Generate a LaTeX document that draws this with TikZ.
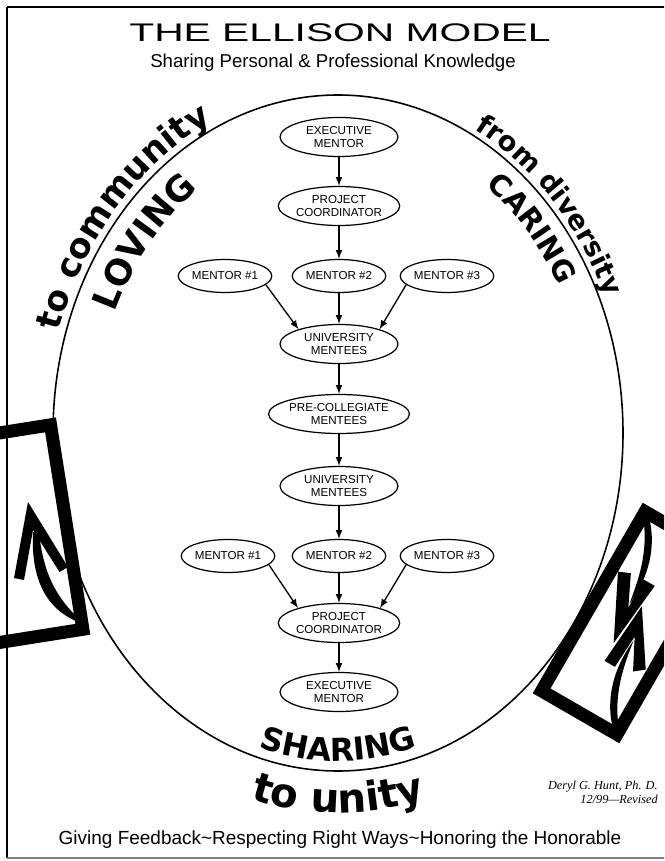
\documentclass[tikz,border=0pt]{standalone}
\usepackage{fontspec}
\setmainfont{Liberation Sans}
\newfontfamily\serifit{Liberation Serif}
\newfontfamily\curvefont{DejaVu Sans}
\usetikzlibrary{shapes.geometric,decorations.text}

\newcommand\curveA{\curvefont\bfseries\fontsize{15.5}{15.5}\selectfont}
\newcommand\curveB{\curvefont\bfseries\fontsize{16.5}{16.5}\selectfont}
\newcommand\curveC{\curvefont\bfseries\fontsize{18}{18}\selectfont}
\newcommand\curveD{\curvefont\bfseries\fontsize{20}{20}\selectfont}
\newcommand\curveE{\curvefont\bfseries\fontsize{23}{23}\selectfont}
\newcommand\curveF{\curvefont\bfseries\fontsize{19.5}{19.5}\selectfont}

\begin{document}
\begin{tikzpicture}[x=0.02cm, y=0.02cm,
    bignode/.style={draw, ellipse, line width=0.7pt, inner sep=0pt,
      minimum width=2.36cm, minimum height=0.78cm, align=center,
      font=\fontsize{6.6}{7.6}\selectfont},
    mentor/.style={bignode, minimum width=1.86cm, minimum height=0.66cm},
    link/.style={-latex, line width=0.75pt},
    sidebox/.style={draw, rectangle, line width=7.4pt, inner sep=0pt}]
  \useasboundingbox (0,0) rectangle (664,-861);
  \clip (0,0) rectangle (664,-861);

    \node (title) at (340,-33) [xscale=1.6] {\fontsize{14.5}{15}\selectfont THE ELLISON MODEL};
    \node (subtitle) at (333,-63) {\fontsize{10.6}{12}\selectfont Sharing Personal \& Professional Knowledge};
    \node (footer) at (340,-840) {\fontsize{10.8}{12}\selectfont Giving Feedback\textasciitilde Respecting Right Ways\textasciitilde Honoring the Honorable};
    \node (author) [anchor=north east, align=right, inner sep=0pt,
      font=\serifit\itshape\fontsize{7}{8}\selectfont] at (658,-781)
      {Deryl G. Hunt, Ph. D.\\ 12/99—Revised};

    \coordinate (C) at (338,-433);
    \draw [line width=0.9pt] (C) ellipse [x radius=285, y radius=338];

    %\path [decorate] ... words round the ring
    \path [decorate, decoration={text along path, text align=center, text={|\curveF|to community}}]
      ([shift={(178:292 and 345)}]C) arc [start angle=178, end angle=98, x radius=292, y radius=345];
    \path [decorate, decoration={text along path, text align=center, text={|\curveD|LOVING}}]
      ([shift={(174:244 and 297)}]C) arc [start angle=174, end angle=104, x radius=244, y radius=297];
    \path [decorate, decoration={text along path, text align=center, text={|\curveA|from diversity}}]
      ([shift={(83:291 and 344)}]C) arc [start angle=83, end angle=5, x radius=291, y radius=344];
    \path [decorate, decoration={text along path, text align=center, text={|\curveB|CARING}}]
      ([shift={(78:252 and 305)}]C) arc [start angle=78, end angle=8, x radius=252, y radius=305];
    \path [decorate, decoration={text along path, text align=center, text={|\curveC|SHARING}}]
      ([shift={(230:275 and 328)}]C) arc [start angle=230, end angle=310, x radius=275, y radius=328];
    \path [decorate, decoration={text along path, text align=center, text={|\curveE|to unity}}]
      ([shift={(235:327 and 380)}]C) arc [start angle=235, end angle=305, x radius=327, y radius=380];

    \node (ex1) [bignode] at (339,-137) {EXECUTIVE\\ MENTOR};
    \node (pc1) [bignode] at (339,-206) {PROJECT\\ COORDINATOR};
    \node (m11) [mentor]  at (225,-276) {MENTOR \#1};
    \node (m12) [mentor]  at (339,-276) {MENTOR \#2};
    \node (m13) [mentor]  at (447,-276) {MENTOR \#3};
    \node (um1) [bignode] at (339,-344) {UNIVERSITY\\ MENTEES};
    \node (pcm) [bignode, minimum width=2.5cm] at (339,-414) {PRE-COLLEGIATE\\ MENTEES};
    \node (um2) [bignode] at (339,-486) {UNIVERSITY\\ MENTEES};
    \node (m21) [mentor]  at (228,-556) {MENTOR \#1};
    \node (m22) [mentor]  at (339,-556) {MENTOR \#2};
    \node (m23) [mentor]  at (447,-556) {MENTOR \#3};
    \node (pc2) [bignode] at (339,-623) {PROJECT\\ COORDINATOR};
    \node (ex2) [bignode] at (339,-692) {EXECUTIVE\\ MENTOR};

    \draw [link] (ex1) to (pc1);
    \draw [link] (pc1) to (m12);
    \draw [link] (m11.-12) to (um1.160);
    \draw [link] (m12) to (um1);
    \draw [link] (m13.-168) to (um1.20);
    \draw [link] (um1) to (pcm);
    \draw [link] (pcm) to (um2);
    \draw [link] (um2) to (m22);
    \draw [link] (m21.-12) to (pc2.160);
    \draw [link] (m22) to (pc2);
    \draw [link] (m23.-168) to (pc2.20);
    \draw [link] (pc2) to (ex2);

    %\node (lbox) ... left frame with arrow
    \node (lbox) [sidebox, rotate=9, minimum width=2.54cm, minimum height=4.14cm] at (4,-537) {};
    \fill (28,-502) -- (14,-578) -- (24,-580) -- (33,-530) -- (59.5,-572) -- (68,-567) -- cycle;
    \fill (33,-532) .. controls (30,-590) and (55,-615) .. (84,-624)
      .. controls (62,-603) and (44,-582) .. (39,-532) -- cycle;

    %\node (rbox) ... right frame with two arrows
    \node (rbox) [sidebox, rotate=-30, minimum width=1.74cm, minimum height=4.14cm] at (631,-623) {};
    \begin{scope}[shift={(631,-623)}, rotate=-30]
      \fill (-34,97) .. controls (-12,72) and (-8,40) .. (-11,16)
        .. controls (-15,40) and (-20,70) .. (-42,97) -- cycle;
      \fill (-5,-26) -- (-37,38) -- (-25,43) -- (-10,12) -- (-11,44) -- (2,44) -- cycle;
      \fill (34,-97) .. controls (12,-72) and (8,-40) .. (11,-14)
        .. controls (15,-40) and (20,-70) .. (42,-97) -- cycle;
      \fill (1,20) -- (-4,-46) -- (8,-46) -- (10,-10) -- (26,-41) -- (36,-33) -- cycle;
    \end{scope}

    \draw [line width=1.6pt] (7,-7) -- (680,-7);
    \draw [line width=1.2pt] (7,-7) -- (7,-858);
    \draw [line width=0.8pt, gray] (7,-858) -- (680,-858);
\end{tikzpicture}
\end{document}
